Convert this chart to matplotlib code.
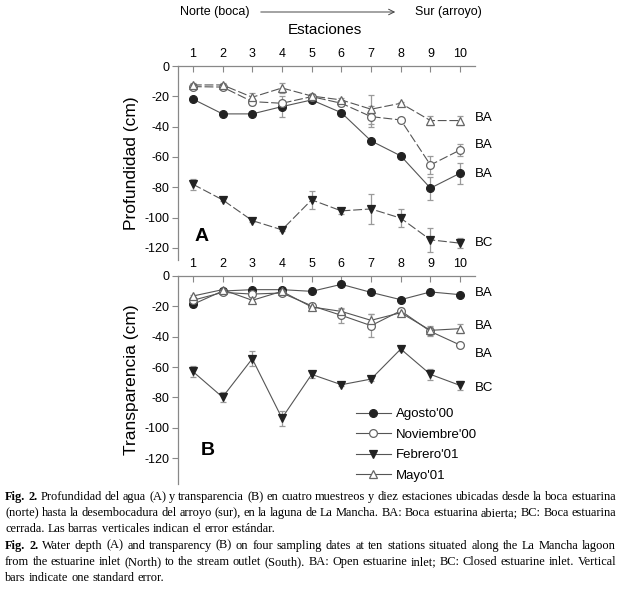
import numpy as np
import matplotlib
matplotlib.use("Agg")
import matplotlib.pyplot as plt

plt.rcParams['font.family'] = ['Liberation Sans', 'DejaVu Sans']
plt.rcParams['axes.unicode_minus'] = False

# ---- data ----
stations = np.arange(1, 11)
series_names = ["Agosto'00", "Noviembre'00", "Febrero'01", "Mayo'01"]

depth_ago = [-21.8, -31.6, -31.6, -26.8, -22.4, -30.8, -49.4, -59.3, -80.6, -70.7]
depth_nov = [-13.6, -13.9, -23.5, -24.6, -20.2, -24.6, -33.4, -35.6, -65.3, -55.4]
depth_feb = [-78.0, -88.3, -102.0, -108.1, -88.3, -95.6, -94.3, -100.4, -114.7, -116.9]
depth_may = [-12.5, -12.5, -20.6, -14.5, -19.8, -22.4, -28.5, -24.6, -36.0, -36.0]
depth_ago_err = [1, 1, 1, 7, 1.5, 1.5, 1.5, 1.5, 7.5, 7]
depth_nov_err = [1, 1, 2, 1.5, 1.5, 1.5, 7, 1, 6, 4]
depth_feb_err = [3.5, 1, 1, 1, 6, 2, 10, 6, 8, 3.5]
depth_may_err = [1, 1, 3, 3, 1.5, 1.5, 9.5, 1, 3, 3]

trans_ago = [-18.7, -9.9, -9.0, -9.0, -10.1, -5.5, -10.8, -15.6, -10.5, -12.3]
trans_nov = [-16.0, -10.8, -11.9, -11.2, -19.6, -25.9, -32.7, -22.9, -36.5, -45.5]
trans_feb = [-62.9, -79.8, -54.5, -93.6, -64.8, -71.6, -67.9, -48.1, -64.8, -72.1]
trans_may = [-13.2, -9.0, -16.0, -10.1, -20.4, -23.3, -29.2, -24.2, -35.8, -34.7]
trans_ago_err = [1.5, 1, 1, 1, 1, 1, 1, 1, 1, 1]
trans_nov_err = [1, 1, 1, 1, 2, 5, 7.5, 1.5, 3, 1]
trans_feb_err = [3.5, 3.5, 5, 5, 2.5, 1, 1, 1, 3.5, 3]
trans_may_err = [1, 1, 1, 1, 1.5, 1.5, 4, 1, 3, 3]

depth_labels = [("BA", -34.5), ("BA", -52.0), ("BA", -71.4), ("BC", -116.5)]
trans_labels = [("BA", -11.4), ("BA", -33.2), ("BA", -51.2), ("BC", -73.8)]

caption = [
    ("Fig. 2.", "Profundidad del agua (A) y transparencia (B) en cuatro muestreos y diez estaciones ubicadas desde la boca estuarina", True),
    ("", "(norte) hasta la desembocadura del arroyo (sur), en la laguna de La Mancha. BA: Boca estuarina abierta; BC: Boca estuarina", True),
    ("", "cerrada. Las barras verticales indican el error estándar.", False),
    ("Fig. 2.", "Water depth (A) and transparency (B) on four sampling dates at ten stations situated along the La Mancha lagoon", True),
    ("", "from the estuarine inlet (North) to the stream outlet (South). BA: Open estuarine inlet; BC: Closed estuarine inlet. Vertical", True),
    ("", "bars indicate one standard error.", False),
]

# ---- styles ----
line_col = '#555555'
err_col = '#9a9a9a'
styles = [
    dict(marker='o', mfc='#222222', mec='#222222'),
    dict(marker='o', mfc='white', mec='#666666'),
    dict(marker='v', mfc='#222222', mec='#222222'),
    dict(marker='^', mfc='white', mec='#666666'),
]
dash = (0, (8, 2.5))

W, H = 621, 592
fig = plt.figure(figsize=(W / 100, H / 100), dpi=100)


def px_axes(x0, y0, x1, y1):
    return fig.add_axes([x0 / W, 1 - y1 / H, (x1 - x0) / W, (y1 - y0) / H])


def style_axes(ax, ylim):
    ax.set_xlim(0.5, 10.5)
    ax.set_ylim(*ylim)
    for s in ['right', 'bottom']:
        ax.spines[s].set_visible(False)
    for s in ['left', 'top']:
        ax.spines[s].set_color('#888888')
        ax.spines[s].set_linewidth(0.9)
    ax.xaxis.tick_top()
    ax.set_xticks(stations)
    ax.set_yticks(np.arange(0, -121, -20))
    ax.tick_params(axis='x', direction='in', length=4, color='#888888', labelsize=9, pad=4)
    ax.tick_params(axis='y', direction='out', length=4, color='#888888', labelsize=9, pad=2)
    ax.patch.set_alpha(0)


def draw_series(ax, ys, errs, linestyles):
    handles = []
    for y, e, st, ls in zip(ys, errs, styles, linestyles):
        ax.errorbar(stations, y, yerr=e, fmt='none', ecolor=err_col, elinewidth=0.9,
                    capsize=2.5, capthick=0.9, zorder=2)
        h, = ax.plot(stations, y, color=line_col, lw=0.8, linestyle=ls,
                     markersize=5.6, markeredgewidth=0.9, zorder=3, **st)
        handles.append(h)
    return handles


# panel A
axA = px_axes(178, 66, 475, 260)
style_axes(axA, (-128, 0))
draw_series(axA, [depth_ago, depth_nov, depth_feb, depth_may],
            [depth_ago_err, depth_nov_err, depth_feb_err, depth_may_err],
            ['-', dash, dash, dash])
axA.set_ylabel('Profundidad (cm)', fontsize=12.5, labelpad=4)
for lab, yv in depth_labels:
    axA.text(10.5, yv, lab, fontsize=9.5, va='center', ha='left', clip_on=False)
axA.text(1.31, -112.7, 'A', fontsize=14, fontweight='bold', ha='center', va='center')

# panel B
axB = px_axes(178, 276, 475, 484)
style_axes(axB, (-137, 0))
hB = draw_series(axB, [trans_ago, trans_nov, trans_feb, trans_may],
                 [trans_ago_err, trans_nov_err, trans_feb_err, trans_may_err],
                 ['-', '-', '-', '-'])
axB.set_ylabel('Transparencia (cm)', fontsize=12.5, labelpad=4)
for lab, yv in trans_labels:
    axB.text(10.5, yv, lab, fontsize=9.5, va='center', ha='left', clip_on=False)
axB.text(1.5, -114.9, 'B', fontsize=14, fontweight='bold', ha='center', va='center')
axB.legend(hB, series_names, loc='upper left', bbox_to_anchor=(0.60, 0.365),
           frameon=False, fontsize=9.5, handlelength=2.6, labelspacing=0.62,
           handletextpad=0.4, borderaxespad=0, borderpad=0)

# header
fig.text(180 / W, 1 - 12 / H, 'Norte (boca)', fontsize=9, va='center', ha='left')
fig.text(482 / W, 1 - 12 / H, 'Sur (arroyo)', fontsize=9, va='center', ha='right')
fig.add_artist(matplotlib.patches.FancyArrowPatch(
    (258 / W, 1 - 12 / H), (398 / W, 1 - 12 / H), transform=fig.transFigure,
    arrowstyle='->', mutation_scale=10, lw=0.7, color='#444444'))
fig.text(325 / W, 1 - 30 / H, 'Estaciones', fontsize=11, va='center', ha='center')

# caption, justified line by line
fig.canvas.draw()
renderer = fig.canvas.get_renderer()
cap_size = 8.9
y0 = 500
for i, (bold, rest, justify) in enumerate(caption):
    y = 1 - (y0 + i * 16.2) / H
    words = [(w, True) for w in bold.split()] + [(w, False) for w in rest.split()]
    texts = []
    for w, b in words:
        t = fig.text(0, y, w, fontsize=cap_size, family='Liberation Serif',
                     fontweight='bold' if b else 'normal', va='baseline', ha='left')
        texts.append(t)
    widths = [t.get_window_extent(renderer).width for t in texts]
    x_left, x_right = 5, 616
    if justify and len(texts) > 1:
        gap = (x_right - x_left - sum(widths)) / (len(texts) - 1)
    else:
        gap = renderer.points_to_pixels(cap_size) * 0.25
    x = x_left
    for t, wd in zip(texts, widths):
        t.set_x(x / W)
        x += wd + gap

fig.savefig('out.png', dpi=100)
